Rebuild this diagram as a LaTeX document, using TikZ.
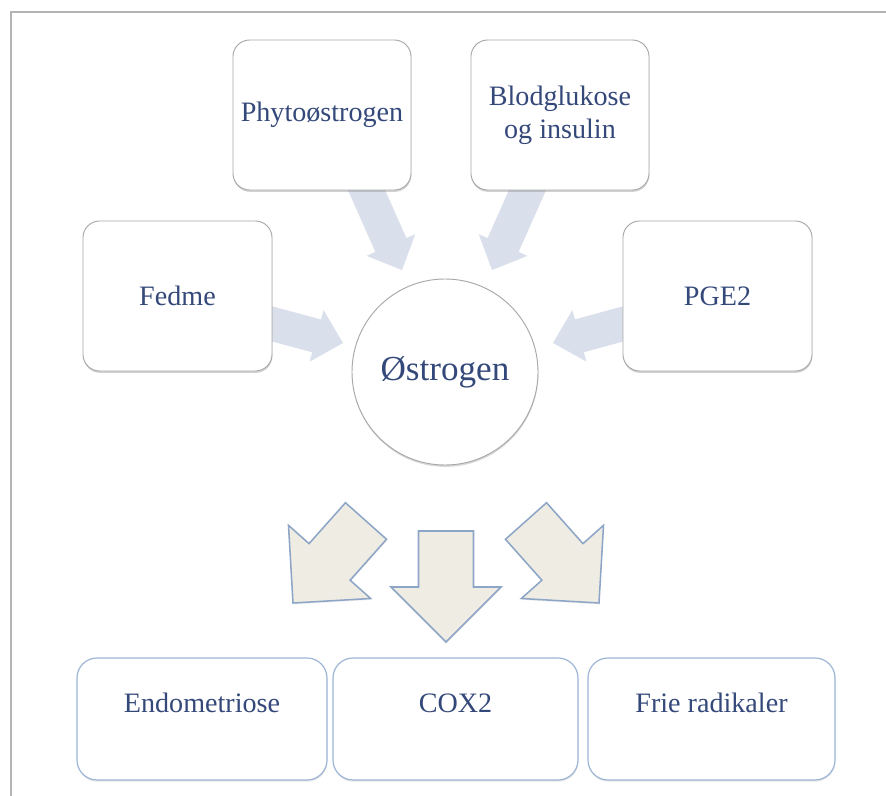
\documentclass[tikz,border=0pt]{standalone}
\usepackage{fontspec}
\setmainfont{Liberation Serif}
\usetikzlibrary{calc,shadows}
\definecolor{txt}{HTML}{34497A}
\definecolor{graybd}{HTML}{A8A8A8}
\definecolor{bluebd}{HTML}{9CB4D6}
\definecolor{inarrow}{HTML}{D9DFEB}
\definecolor{outarrow}{HTML}{EEECE3}
\definecolor{outarrowbd}{HTML}{8DA5C6}
\definecolor{framec}{HTML}{B4B4B4}
\newcommand{\blockarr}[6]{%
  \coordinate (hb) at ($(#3)!#6!(#2)$);
  \path[#1] ($(#2)!#4!90:(#3)$) -- ($(hb)!#4!90:(#3)$) -- ($(hb)!#5!90:(#3)$) -- (#3)
    -- ($(hb)!#5!-90:(#3)$) -- ($(hb)!#4!-90:(#3)$) -- ($(#2)!#4!-90:(#3)$) -- cycle;}
\tikzset{
  boxtext/.style={text=txt, font=\fontsize{24}{28}\selectfont, align=center},
  topbox/.style={boxtext, draw=graybd, fill=white, line width=0.8pt, rounded corners=0.5cm,
    minimum height=4.5cm,
    drop shadow={opacity=0.35, shadow xshift=0.3pt, shadow yshift=-1.6pt}},
  hubcircle/.style={circle, draw=graybd, fill=white, line width=0.8pt, minimum size=5.58cm,
    text=txt, font=\fontsize{30}{34}\selectfont,
    drop shadow={opacity=0.3, shadow xshift=0.3pt, shadow yshift=-1.6pt}},
  bottombox/.style={boxtext, draw=bluebd, fill=white, line width=1pt, rounded corners=0.6cm,
    inner ysep=0pt, text height=1.62cm, text depth=2.04cm,
    drop shadow={opacity=0.2, shadow xshift=0.3pt, shadow yshift=-1.4pt}},
  inarr/.style={fill=inarrow},
  outarr/.style={fill=outarrow, draw=outarrowbd, line width=1.3pt, line join=miter},
}
\begin{document}
\begin{tikzpicture}[x=0.03cm,y=-0.03cm]
\useasboundingbox (0,0) rectangle (886,796);
\fill[white] (0,0) rectangle (886,796);
\draw[framec, line width=1.1pt] (11,796) -- (11,12) -- (886,12);

% arrow end points
\coordinate (phyA) at (362,180);  \coordinate (phyT) at (402,270);
\coordinate (bloA) at (532,180);  \coordinate (bloT) at (492,270);
\coordinate (fedA) at (265,322);  \coordinate (fedT) at (343,343);
\coordinate (pgeA) at (630,322);  \coordinate (pgeT) at (553,343);
\coordinate (endA) at (366,521);  \coordinate (endT) at (293,603);
\coordinate (coxA) at (446,531);  \coordinate (coxT) at (446,642);
\coordinate (friA) at (526,521);  \coordinate (friT) at (599,603);

% incoming arrows
\blockarr{inarr}{phyA}{phyT}{0.51cm}{0.8cm}{0.82cm}
\blockarr{inarr}{bloA}{bloT}{0.51cm}{0.8cm}{0.82cm}
\blockarr{inarr}{fedA}{fedT}{0.51cm}{0.8cm}{0.82cm}
\blockarr{inarr}{pgeA}{pgeT}{0.51cm}{0.8cm}{0.82cm}

% outgoing arrows
\blockarr{outarr, drop shadow={opacity=0.15, shadow xshift=0.3pt, shadow yshift=-1.2pt}}{endA}{endT}{0.825cm}{1.65cm}{1.65cm}
\blockarr{outarr, drop shadow={opacity=0.15, shadow xshift=0.3pt, shadow yshift=-1.2pt}}{coxA}{coxT}{0.825cm}{1.65cm}{1.65cm}
\blockarr{outarr, drop shadow={opacity=0.15, shadow xshift=0.3pt, shadow yshift=-1.2pt}}{friA}{friT}{0.825cm}{1.65cm}{1.65cm}

% boxes
\node[topbox, minimum width=5.34cm] (phyto) at (322,115) {Phytoøstrogen};
\node[topbox, minimum width=5.34cm] (blod) at (560,115) {Blodglukose\\og insulin};
\node[topbox, minimum width=5.67cm] (fedme) at (177.5,296) {Fedme};
\node[topbox, minimum width=5.67cm] (pge) at (717.5,296) {PGE2};
\node[hubcircle] (ostro) at (445,372) {Østrogen};
\node[bottombox, minimum width=7.5cm] (endo) at (202,719) {Endometriose};
\node[bottombox, minimum width=7.35cm] (cox) at (455.5,719) {COX2};
\node[bottombox, minimum width=7.41cm] (frie) at (711.5,719) {Frie radikaler};
\end{tikzpicture}
\end{document}
